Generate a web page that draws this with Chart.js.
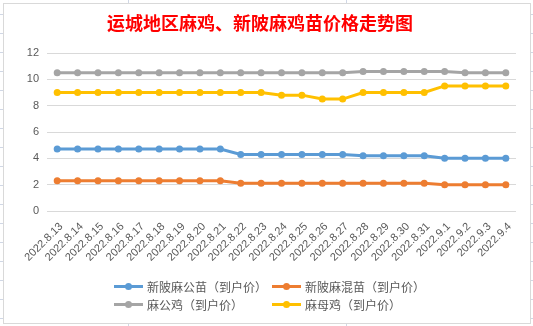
<!DOCTYPE html>
<html>
<head>
<meta charset="utf-8">
<script src="https://cdn.jsdelivr.net/npm/chart.js@4/dist/chart.umd.min.js"></script>
<style>
  html, body { margin: 0; padding: 0; }
  body {
    width: 533px; height: 326px; overflow: hidden; position: relative;
    background-color: #ffffff;
    background-image:
      linear-gradient(to bottom, #d0d7e5 1px, transparent 1px),
      linear-gradient(to right, #d0d7e5 1px, transparent 1px);
    background-size: 100% 19px, 218px 100%;
    background-position: 0 14px, 128px 0;
  }
  #frame {
    position: absolute; left: 3px; top: 3px; width: 526px; height: 319px;
    border: 1px solid #d9d9d9; background: #ffffff;
  }
  #c { position: absolute; left: 0; top: 0; }
  #legend { position: absolute; left: 0; top: 0; width: 100%; height: 100%; pointer-events: none; }
  .item { position: absolute; height: 16px; display: flex; align-items: center;
    font: 12px "Noto Sans CJK SC", sans-serif; color: #595959; white-space: nowrap; }
  .sw { position: relative; width: 29px; height: 16px; margin-right: 4px; }
  .sw .ln { position: absolute; left: 0; right: 0; top: 6.5px; height: 3px; }
  .sw .dt { position: absolute; left: 10.5px; top: 4.5px; width: 7px; height: 7px; border-radius: 50%; }
</style>
</head>
<body>
<div id="frame">
  <canvas id="c" width="526" height="319"></canvas>
  <div id="legend"></div>
</div>
<script>
const categories = ["2022.8.13","2022.8.14","2022.8.15","2022.8.16","2022.8.17","2022.8.18","2022.8.19","2022.8.20","2022.8.21","2022.8.22","2022.8.23","2022.8.24","2022.8.25","2022.8.26","2022.8.27","2022.8.28","2022.8.29","2022.8.30","2022.8.31","2022.9.1","2022.9.2","2022.9.3","2022.9.4"];
const seriesNames = ["新陂麻公苗（到户价）","新陂麻混苗（到户价）","麻公鸡（到户价）","麻母鸡（到户价）"];
const maleChickPrice  = [4.7,4.7,4.7,4.7,4.7,4.7,4.7,4.7,4.7,4.3,4.3,4.3,4.3,4.3,4.3,4.2,4.2,4.2,4.2,4.0,4.0,4.0,4.0];
const mixedChickPrice = [2.3,2.3,2.3,2.3,2.3,2.3,2.3,2.3,2.3,2.1,2.1,2.1,2.1,2.1,2.1,2.1,2.1,2.1,2.1,2.0,2.0,2.0,2.0];
const roosterPrice    = [10.5,10.5,10.5,10.5,10.5,10.5,10.5,10.5,10.5,10.5,10.5,10.5,10.5,10.5,10.5,10.6,10.6,10.6,10.6,10.6,10.5,10.5,10.5];
const henPrice        = [9.0,9.0,9.0,9.0,9.0,9.0,9.0,9.0,9.0,9.0,9.0,8.8,8.8,8.5,8.5,9.0,9.0,9.0,9.0,9.5,9.5,9.5,9.5];
const yTicks = [0,2,4,6,8,10,12];
const titleText = "运城地区麻鸡、新陂麻鸡苗价格走势图";
const colors = ["#5b9bd5","#ed7d31","#a5a5a5","#ffc000"];
const seriesData = [maleChickPrice, mixedChickPrice, roosterPrice, henPrice];

const datasets = seriesData.map((d, i) => ({
  label: seriesNames[i],
  data: d,
  borderColor: colors[i],
  backgroundColor: colors[i],
  pointBackgroundColor: colors[i],
  pointBorderColor: colors[i],
  borderWidth: 3,
  pointRadius: 3.5,
  pointBorderWidth: 0,
  tension: 0
}));

const numFont = { family: "'Liberation Sans', Arial, sans-serif", size: 11 };

new Chart(document.getElementById('c'), {
  type: 'line',
  data: { labels: categories, datasets: datasets },
  options: {
    responsive: false,
    animation: false,
    devicePixelRatio: 1,
    layout: { padding: { left: 0, right: 14, top: 0, bottom: 0 } },
    plugins: {
      legend: { display: false },
      tooltip: { enabled: false },
      title: {
        display: true,
        text: titleText,
        color: '#ff0000',
        font: { family: "'Noto Sans CJK SC', sans-serif", size: 18, weight: 'bold', lineHeight: 1.2 },
        padding: { top: 8, bottom: 19.4 }
      }
    },
    scales: {
      x: {
        offset: true,
        grid: { display: false, drawTicks: false },
        border: { display: false },
        ticks: {
          color: '#595959', font: numFont,
          minRotation: 45, maxRotation: 45, autoSkip: false, padding: 9, labelOffset: 4
        },
        afterFit: (s) => { s.height = 112; }
      },
      y: {
        min: 0, max: 12,
        afterBuildTicks: (s) => { s.ticks = yTicks.map(v => ({ value: v })); },
        grid: { color: '#d9d9d9', lineWidth: 1, drawTicks: false },
        border: { display: false },
        ticks: { color: '#595959', font: numFont, padding: 8 },
        afterFit: (s) => { s.width = 43; }
      }
    }
  }
});

// Legend (Excel-style grid)
const legend = document.getElementById('legend');
const legendPos = [[110, 274], [268, 274], [110, 292], [268, 292]];
seriesNames.forEach((name, i) => {
  const it = document.createElement('div');
  it.className = 'item';
  it.style.left = legendPos[i][0] + 'px';
  it.style.top = legendPos[i][1] + 'px';
  it.innerHTML = '<div class="sw"><div class="ln" style="background:' + colors[i] + '"></div><div class="dt" style="background:' + colors[i] + '"></div></div><span></span>';
  it.querySelector('span').textContent = name;
  legend.appendChild(it);
});
</script>
</body>
</html>
